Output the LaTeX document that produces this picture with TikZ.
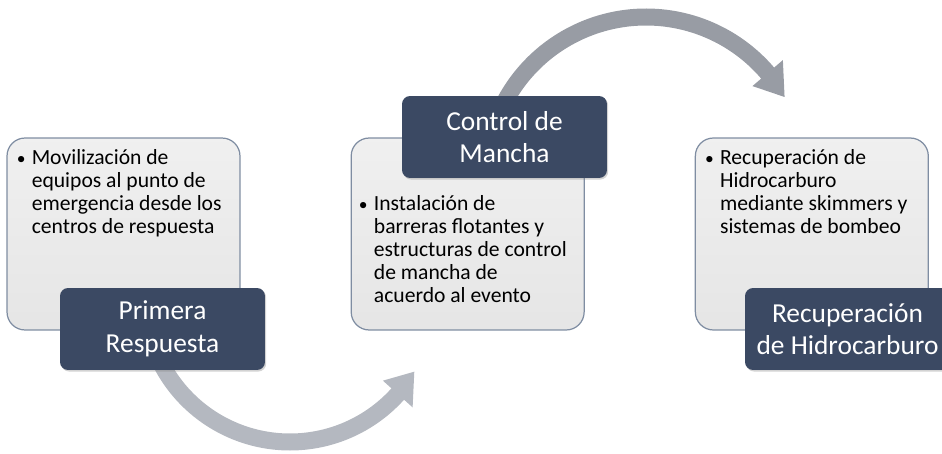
\documentclass[tikz,border=0pt]{standalone}
\usepackage{fontspec}
\setmainfont{Carlito}
\usetikzlibrary{positioning, shadows}
\definecolor{navy}{HTML}{3B4963}
\definecolor{panelline}{HTML}{7F8DA2}
\definecolor{arrowlight}{HTML}{B4B8C0}
\definecolor{arrowdark}{HTML}{989CA4}
\newcommand{\bodyfont}{\fontsize{12.3}{13}\selectfont}
\newcommand{\titlefont}{\fontsize{15.6}{18.5}\selectfont}
\newcommand{\dotmark}{{\fontsize{10}{10}\selectfont •}}

\begin{document}
\begin{tikzpicture}[x=0.02cm, y=0.02cm,
  panel/.style={draw=panelline, line width=0.7pt, rounded corners=0.36cm,
    top color=black!6, bottom color=black!10,
    minimum width=4.66cm, minimum height=3.84cm},
  title/.style={fill=navy, rounded corners=0.16cm, text=white, align=center,
    minimum width=4.1cm, minimum height=1.64cm, font=\titlefont,
    drop shadow={shadow xshift=0.7pt, shadow yshift=-0.9pt, opacity=0.35}},
  bodytext/.style={inner sep=0pt, anchor=north west, font=\bodyfont}
]
\useasboundingbox (0,0) rectangle (942,453);
\clip (0,0) rectangle (942,453);

\coordinate (c1) at (290,156);
\coordinate (c2) at (646,276);
\begin{scope}[shift={(c1)}]
\fill[arrowlight] (205:153.5) arc[start angle=205, end angle=318, radius=153.5]
  -- (318:165) -- (329:145) -- (318:125) -- (318:136.5)
  arc[start angle=318, end angle=205, radius=136.5] -- cycle;
\end{scope}
\begin{scope}[shift={(c2)}]
\fill[arrowdark] (155:168.5) arc[start angle=155, end angle=40.5, radius=168.5]
  -- (40.5:180) -- (30:160) -- (40.5:140) -- (40.5:151.5)
  arc[start angle=40.5, end angle=155, radius=151.5] -- cycle;
\end{scope}

\node[panel] (p1) at (123.5,219) {};
\node[panel, right=2.2cm of p1] (p2) {};
\node[panel, right=2.2cm of p2] (p3) {};

\node[bodytext] (t1) at ([shift={(10,-11)}]p1.north west)
  {\begin{tabular}{@{}p{0.3cm}@{}l@{}}
   \dotmark & Movilización de\\ & equipos al punto de\\
     & emergencia desde los\\ & centros de respuesta
   \end{tabular}};
\node[bodytext] (t2) at ([shift={(8,-57)}]p2.north west)
  {\begin{tabular}{@{}p{0.3cm}@{}l@{}}
   \dotmark & Instalación de\\ & barreras flotantes y\\
     & estructuras de control\\ & de mancha de\\ & acuerdo al evento
   \end{tabular}};
\node[bodytext] (t3) at ([shift={(10,-11)}]p3.north west)
  {\begin{tabular}{@{}p{0.3cm}@{}l@{}}
   \dotmark & Recuperación de\\ & Hidrocarburo\\
     & mediante skimmers y\\ & sistemas de bombeo
   \end{tabular}};

\node[title] (l1) at (162.5,124) {Primera\\Respuesta};
\node[title] (l2) at (504.5,316) {Control de\\Mancha};
\node[title] (l3) at (847.5,124) {Recuperación\\de Hidrocarburo};
\end{tikzpicture}
\end{document}
